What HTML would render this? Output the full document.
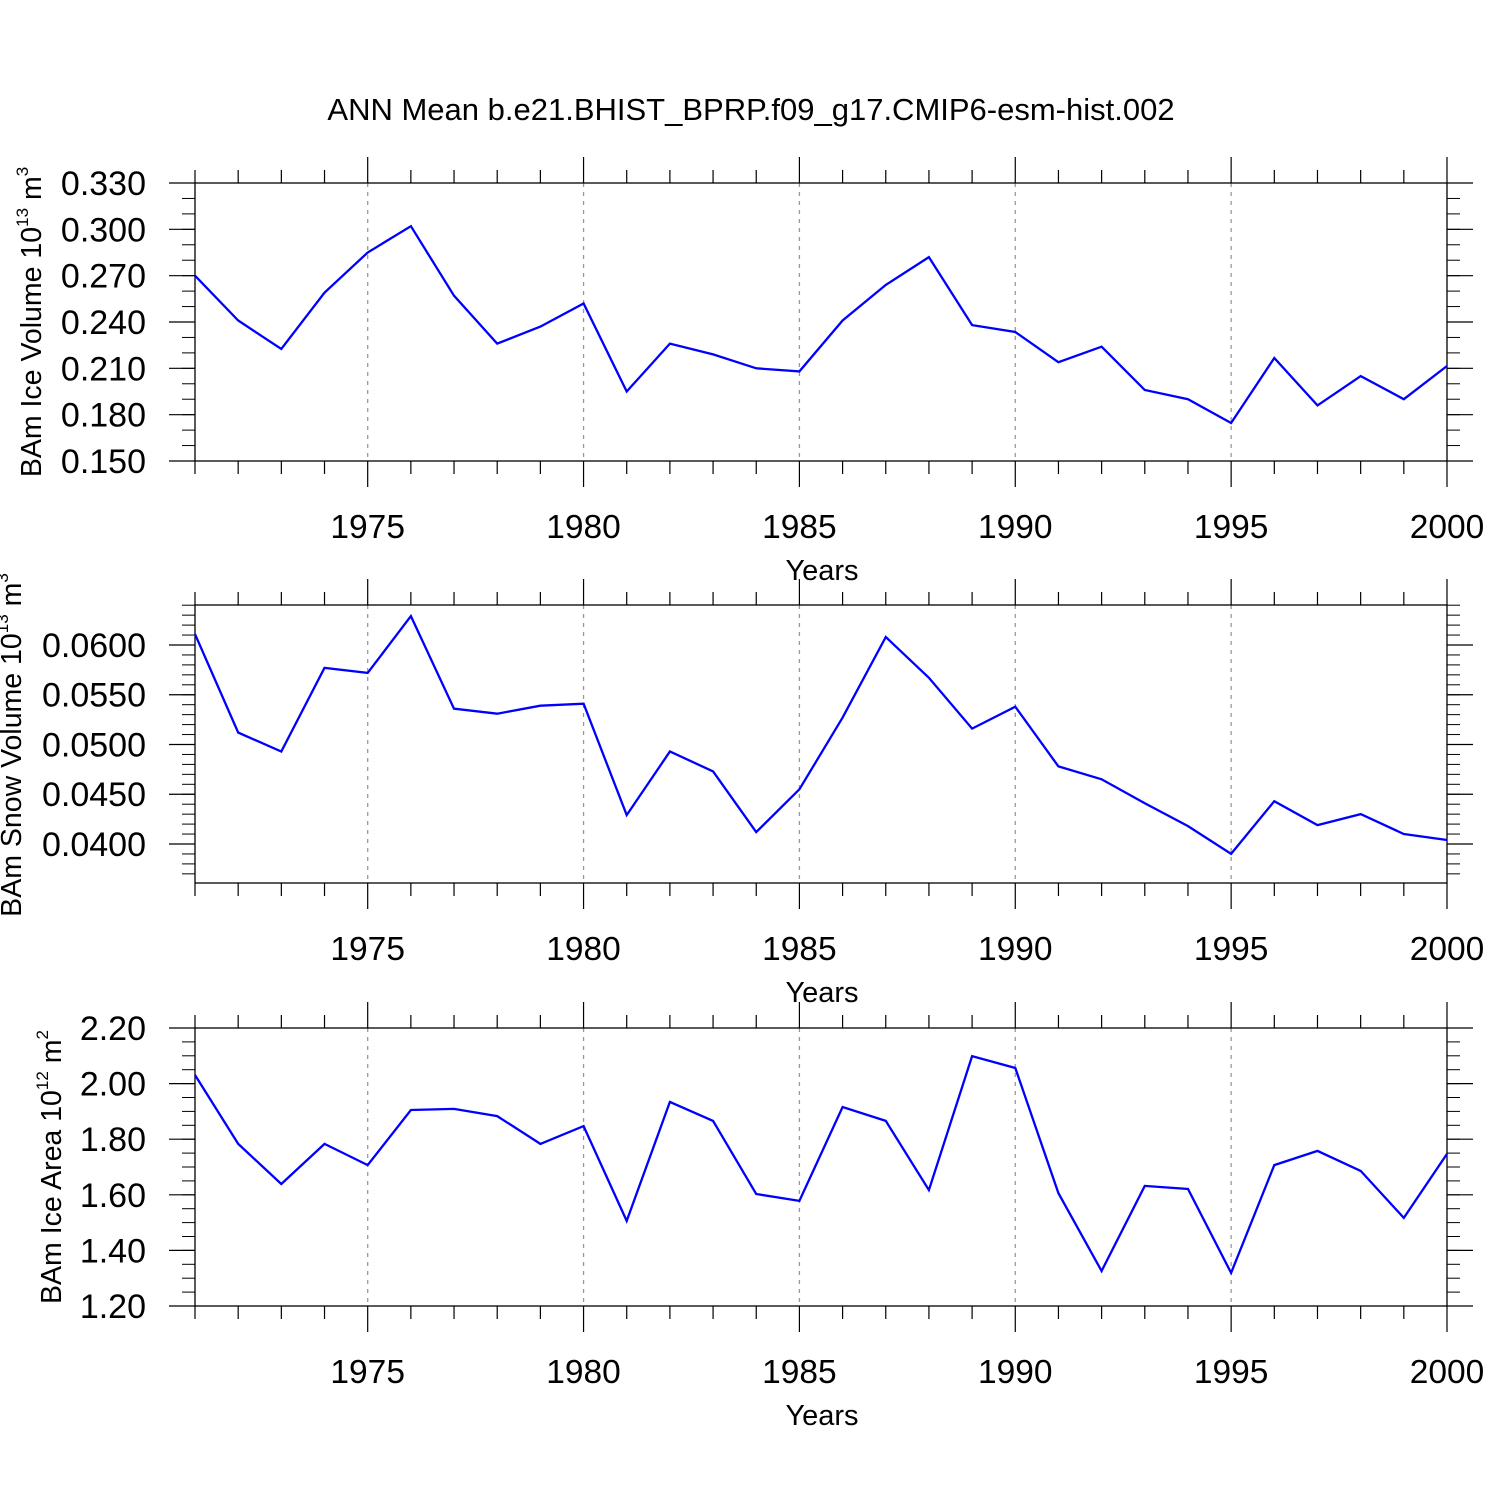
<!DOCTYPE html>
<html><head><meta charset="utf-8"><style>
html,body{margin:0;padding:0;background:#fff;}
svg{display:block;font-family:"Liberation Sans",Arial,sans-serif;}
</style></head><body>
<svg id="chart" width="1500" height="1500" viewBox="0 0 1500 1500" xmlns="http://www.w3.org/2000/svg">
<rect width="1500" height="1500" fill="#fff"/>
<text x="751" y="120" font-size="31" text-anchor="middle">ANN Mean b.e21.BHIST_BPRP.f09_g17.CMIP6-esm-hist.002</text>
</svg>
<script>
const years = [];
for (let y = 1971; y <= 2000; y++) years.push(y);
const iceVolume = [0.270,0.241,0.2225,0.259,0.285,0.302,0.257,0.226,0.237,0.252,0.195,0.226,0.219,0.210,0.208,0.241,0.264,0.282,0.238,0.2335,0.214,0.224,0.196,0.190,0.1746,0.2167,0.186,0.205,0.190,0.2115];
const snowVolume = [0.0611,0.0512,0.0493,0.0577,0.0572,0.0629,0.0536,0.0531,0.0539,0.0541,0.0429,0.0493,0.0473,0.0412,0.0455,0.0527,0.0608,0.0567,0.0516,0.0538,0.0478,0.0465,0.0441,0.0418,0.0390,0.0443,0.0419,0.0430,0.0410,0.0404];
const iceArea = [2.031,1.783,1.639,1.783,1.707,1.905,1.909,1.883,1.783,1.847,1.506,1.934,1.866,1.603,1.578,1.916,1.866,1.617,2.099,2.056,1.606,1.326,1.632,1.621,1.319,1.707,1.758,1.686,1.517,1.747];
const xTickLabels = ["1975","1980","1985","1990","1995","2000"];
const iceVolTicks = ["0.150","0.180","0.210","0.240","0.270","0.300","0.330"];
const snowTicks = ["0.0400","0.0450","0.0500","0.0550","0.0600"];
const areaTicks = ["1.20","1.40","1.60","1.80","2.00","2.20"];

const NS = "http://www.w3.org/2000/svg";
const svg = document.getElementById('chart');
const X0 = 195, X1 = 1447;
function xs(yr){ return X0 + (yr-1971)*(X1-X0)/29; }
function mk(tag, attrs, parent){
  const e = document.createElementNS(NS, tag);
  for (const k in attrs) e.setAttribute(k, attrs[k]);
  (parent||svg).appendChild(e); return e;
}

const panels = [
  {name:'ice-volume', top:183, bot:461, min:0.150, max:0.330, data:iceVolume, ticks:iceVolTicks, minorStep:0.01,
   title:'BAm Ice Volume 10', exp:'13', unit:' m', uexp:'3', tx:41, ty:322},
  {name:'snow-volume', top:605, bot:883, min:0.03608, max:0.06402, data:snowVolume, ticks:snowTicks, minorStep:0.001,
   title:'BAm Snow Volume 10', exp:'13', unit:' m', uexp:'3', tx:21, ty:745},
  {name:'ice-area', top:1028, bot:1306, min:1.20, max:2.20, data:iceArea, ticks:areaTicks, minorStep:0.05,
   title:'BAm Ice Area 10', exp:'12', unit:' m', uexp:'2', tx:61, ty:1167}
];

panels.forEach(p => {
  const g = mk('g', {});
  
  
  const ys = v => p.bot - (v - p.min)/(p.max - p.min)*(p.bot - p.top);
  [1975,1980,1985,1990,1995].forEach(yr => {
    const l = mk('line', {x1:xs(yr), x2:xs(yr), y1:p.top, y2:p.bot, stroke:'#999', 'stroke-width':1.3, 'stroke-dasharray':'4,5'}, g);
    
    
  });
  const fr = mk('rect', {x:X0, y:p.top, width:X1-X0, height:p.bot-p.top, fill:'none', stroke:'#000', 'stroke-width':1.3}, g);
  
  
  years.forEach(yr => {
    const major = yr % 5 === 0;
    const len = major ? 26 : 13;
    const x = xs(yr);
    mk('line', {x1:x, x2:x, y1:p.top, y2:p.top-len, stroke:'#000', 'stroke-width':1.2}, g);
    mk('line', {x1:x, x2:x, y1:p.bot, y2:p.bot+len, stroke:'#000', 'stroke-width':1.2}, g);
  });
  xTickLabels.forEach(t => {
    const tl = mk('text', {x:xs(+t), y:p.bot+77, 'font-size':33.5, 'text-anchor':'middle'}, g);
    tl.textContent = t;
    
    
  });
  const xt = mk('text', {x:822, y:p.bot+119, 'font-size':29, 'text-anchor':'middle'}, g);
  xt.textContent = 'Years';
  
  
  const nMinor = Math.round((p.max - p.min)/p.minorStep) + 2;
  const start = Math.ceil(p.min/p.minorStep - 1e-6)*p.minorStep;
  for (let i = 0; i < nMinor; i++) {
    const v = start + i*p.minorStep;
    if (v > p.max + 1e-9) break;
    const y = ys(v);
    mk('line', {x1:X0, x2:X0-13, y1:y, y2:y, stroke:'#000', 'stroke-width':1}, g);
    mk('line', {x1:X1, x2:X1+13, y1:y, y2:y, stroke:'#000', 'stroke-width':1}, g);
  }
  p.ticks.forEach(t => {
    const y = ys(+t);
    mk('line', {x1:X0, x2:X0-26, y1:y, y2:y, stroke:'#000', 'stroke-width':1.2}, g);
    mk('line', {x1:X1, x2:X1+26, y1:y, y2:y, stroke:'#000', 'stroke-width':1.2}, g);
    const tl = mk('text', {x:146, y:y+12, 'font-size':34, 'text-anchor':'end'}, g);
    tl.textContent = t;
    
    
  });
  const yt = mk('text', {x:0, y:0, 'font-size':28.5, 'text-anchor':'middle', transform:`translate(${p.tx},${p.ty}) rotate(-90)`}, g);
  
  
  const s1 = mk('tspan', {}, yt); s1.textContent = p.title;
  const s2 = mk('tspan', {dy:-13, 'font-size':17}, yt); s2.textContent = p.exp;
  const s3 = mk('tspan', {dy:13}, yt); s3.textContent = p.unit;
  const s4 = mk('tspan', {dy:-13, 'font-size':17}, yt); s4.textContent = p.uexp;
  const pts = p.data.map((v,i) => xs(years[i]).toFixed(1)+','+ys(v).toFixed(1)).join(' ');
  const pl = mk('polyline', {points:pts, fill:'none', stroke:'#0000ff', 'stroke-width':2.3, 'stroke-linejoin':'miter'}, g);
  
  
});
</script>
</body></html>
